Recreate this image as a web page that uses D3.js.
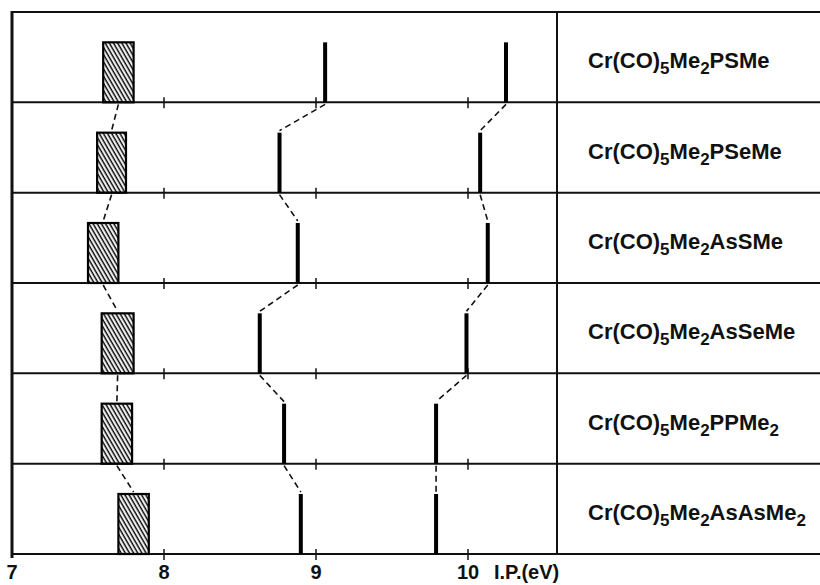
<!doctype html>
<html lang="en">
<head>
<meta charset="utf-8">
<title>I.P. correlation</title>
<script src="https://cdn.jsdelivr.net/npm/d3@7"></script>
<style>
body { margin: 0; background: #fff; }
text { font-family: "Liberation Sans", Arial, Helvetica, sans-serif; font-weight: bold; fill: #111; }
</style>
</head>
<body>
<script>
// compounds, top to bottom ("_n" = subscript)
var compounds = ["Cr(CO)_5Me_2PSMe", "Cr(CO)_5Me_2PSeMe", "Cr(CO)_5Me_2AsSMe",
                 "Cr(CO)_5Me_2AsSeMe", "Cr(CO)_5Me_2PPMe_2", "Cr(CO)_5Me_2AsAsMe_2"];
// hatched band (eV)
var hatchLo = [7.60, 7.56, 7.50, 7.59, 7.59, 7.70];
var hatchHi = [7.80, 7.75, 7.70, 7.80, 7.79, 7.90];
// single lines (eV)
var line1 = [9.06, 8.76, 8.88, 8.63, 8.79, 8.90];
var line2 = [10.25, 10.08, 10.13, 9.99, 9.79, 9.79];
var tickVals = [7, 8, 9, 10];
var axisTitle = "I.P.(eV)";

var W = 820, H = 585;
var svg = d3.select("body").append("svg").attr("width", W).attr("height", H);

var x = d3.scaleLinear().domain([7, 10]).range([12, 468]);
var y = d3.scaleBand().domain(d3.range(compounds.length)).range([12, 554]);
var divX = 557, markH = 60;
var base = function(i) { return y(i) + y.bandwidth(); };

// hatch pattern
svg.append("defs").append("pattern")
  .attr("id", "hatch").attr("patternUnits", "userSpaceOnUse")
  .attr("width", 3.6).attr("height", 4)
  .attr("patternTransform", "rotate(-30)")
  .append("line").attr("x1", 1.2).attr("y1", 0).attr("x2", 1.2).attr("y2", 4)
  .attr("stroke", "#000").attr("stroke-width", 1.5);

// frame lines
var hl = [y(0)].concat(d3.range(compounds.length).map(base));
svg.selectAll(".hl").data(hl).enter().append("line")
  .attr("x1", 12).attr("x2", W).attr("y1", function(d) { return d; }).attr("y2", function(d) { return d; })
  .attr("stroke", "#111").attr("stroke-width", 2);
svg.append("line").attr("x1", 12).attr("x2", 12).attr("y1", 11).attr("y2", 558)
  .attr("stroke", "#111").attr("stroke-width", 3);
svg.append("line").attr("x1", divX).attr("x2", divX).attr("y1", 12).attr("y2", 554)
  .attr("stroke", "#111").attr("stroke-width", 2);

// small ticks on each row baseline
d3.range(compounds.length).forEach(function(i) {
  svg.selectAll(null).data(tickVals.slice(1)).enter().append("line")
    .attr("x1", function(d) { return x(d); }).attr("x2", function(d) { return x(d); })
    .attr("y1", base(i) - 5).attr("y2", base(i) + 6)
    .attr("stroke", "#111").attr("stroke-width", 1.5);
});

// dashed connectors
var dash = svg.append("g").attr("stroke", "#111").attr("stroke-width", 1.6)
  .attr("stroke-dasharray", "6,4").attr("fill", "none");
d3.range(compounds.length - 1).forEach(function(i) {
  var y0 = base(i) + 2, y1 = base(i + 1) - markH - 2;
  var hc = function(j) { return x((hatchLo[j] + hatchHi[j]) / 2); };
  dash.append("line").attr("x1", hc(i)).attr("x2", hc(i + 1)).attr("y1", y0).attr("y2", y1);
  dash.append("line").attr("x1", x(line1[i])).attr("x2", x(line1[i + 1])).attr("y1", y0).attr("y2", y1);
  dash.append("line").attr("x1", x(line2[i])).attr("x2", x(line2[i + 1])).attr("y1", y0).attr("y2", y1);
});

// hatched rects
svg.selectAll(".hr").data(compounds).enter().append("rect")
  .attr("x", function(d, i) { return x(hatchLo[i]); })
  .attr("width", function(d, i) { return x(hatchHi[i]) - x(hatchLo[i]); })
  .attr("y", function(d, i) { return base(i) - markH; })
  .attr("height", markH)
  .attr("fill", "url(#hatch)").attr("stroke", "#000").attr("stroke-width", 2.2);

// thick lines
[line1, line2].forEach(function(arr) {
  svg.selectAll(null).data(arr).enter().append("rect")
    .attr("x", function(d) { return x(d) - 2; }).attr("width", 4)
    .attr("y", function(d, i) { return base(i) - markH; }).attr("height", markH)
    .attr("fill", "#000");
});

// compound labels
compounds.forEach(function(c, i) {
  var t = svg.append("text").attr("x", 588).attr("y", y(i) + y.bandwidth() / 2 + 11)
    .style("font-size", "22px");
  var parts = c.split(/(_\d)/).filter(function(p) { return p.length; });
  var shifted = false;
  parts.forEach(function(p) {
    if (p[0] === "_") {
      t.append("tspan").attr("dy", 6).style("font-size", "17px").text(p.slice(1));
      shifted = true;
    } else {
      t.append("tspan").attr("dy", shifted ? -6 : 0).text(p);
      shifted = false;
    }
  });
});

// bottom tick labels + title
svg.selectAll(".tl").data(tickVals).enter().append("text")
  .attr("x", function(d) { return x(d); }).attr("y", 579)
  .attr("text-anchor", "middle").style("font-size", "20px")
  .text(function(d) { return d; });
svg.append("text").attr("x", 494).attr("y", 579).style("font-size", "20px").text(axisTitle);
</script>
</body>
</html>
